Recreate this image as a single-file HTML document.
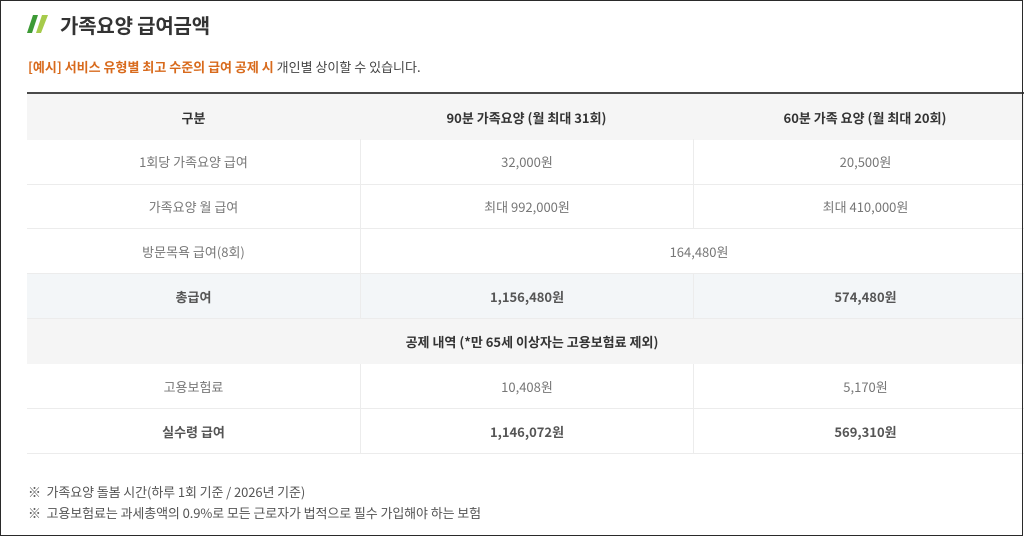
<!DOCTYPE html>
<html>
<head>
<meta charset="utf-8">
<style>
*{margin:0;padding:0;box-sizing:border-box;}
html,body{width:1024px;height:537px;overflow:hidden;background:#fff;}
body{position:relative;font-family:"Liberation Sans","Noto Sans CJK KR",sans-serif;}
.frame{position:absolute;left:0;top:0;width:1023px;height:536px;border:1px solid #2a2a2a;z-index:10;pointer-events:none;}
.title{position:absolute;left:60px;top:12px;font-size:20px;line-height:26px;font-weight:bold;color:#333;letter-spacing:-0.2px;font-family:"Noto Sans CJK KR",sans-serif;}
.icon{position:absolute;left:27px;top:15px;width:24px;height:18px;}
.sub{position:absolute;left:28px;top:57px;font-size:13px;line-height:20px;color:#444;letter-spacing:0px;font-family:"Noto Sans CJK KR",sans-serif;}
.sub b{color:#d86a1c;font-weight:bold;}
.tbl{position:absolute;left:27px;top:92px;width:1010px;}
.topline{position:absolute;left:0;top:0;width:1010px;height:2px;background:#4a4a4a;}
.row{position:absolute;left:0;width:1010px;border-bottom:1px solid #ececec;}
.cell{position:absolute;top:0;height:100%;display:flex;align-items:center;justify-content:center;font-size:13px;color:#777;letter-spacing:0px;font-family:"Noto Sans CJK KR",sans-serif;}
.h .cell{color:#333;font-weight:bold;}
.bd .cell{color:#555;font-weight:bold;}
.c1{left:0;width:333px;}
.c2{left:333px;width:333px;}
.c3{left:666px;width:344px;}
.c23{left:333px;width:677px;}
.call{left:0;width:1010px;}
.vl{border-left:1px solid #ececec;}
.note{position:absolute;left:28px;font-size:13px;line-height:20px;color:#555;letter-spacing:-0.1px;font-family:"Noto Sans CJK KR",sans-serif;}
</style>
</head>
<body>
<div class="frame"></div>

<svg class="icon" viewBox="0 0 24 18">
  <polygon points="6,0 11,0 5,18 0,18" fill="#3d9a36"/>
  <polygon points="15,0 21,0 14,18 9,18" fill="#a6cb4b"/>
</svg>
<div class="title">가족요양 급여금액</div>

<div class="sub"><b>[예시] 서비스 유형별 최고 수준의 급여 공제 시</b> 개인별 상이할 수 있습니다.</div>

<div class="tbl">
  <div class="topline"></div>
  <div class="row h" style="top:2px;height:46px;background:#f5f5f5;border-bottom:none;">
    <div class="cell c1">구분</div>
    <div class="cell c2">90분 가족요양 (월 최대 31회)</div>
    <div class="cell c3">60분 가족 요양 (월 최대 20회)</div>
  </div>
  <div class="row" style="top:47px;height:46px;">
    <div class="cell c1">1회당 가족요양 급여</div>
    <div class="cell c2 vl">32,000원</div>
    <div class="cell c3 vl">20,500원</div>
  </div>
  <div class="row" style="top:93px;height:44px;">
    <div class="cell c1">가족요양 월 급여</div>
    <div class="cell c2 vl">최대 992,000원</div>
    <div class="cell c3 vl">최대 410,000원</div>
  </div>
  <div class="row" style="top:137px;height:45px;">
    <div class="cell c1">방문목욕 급여(8회)</div>
    <div class="cell c23 vl">164,480원</div>
  </div>
  <div class="row bd" style="top:182px;height:45px;background:#f3f6f8;">
    <div class="cell c1">총급여</div>
    <div class="cell c2 vl">1,156,480원</div>
    <div class="cell c3 vl">574,480원</div>
  </div>
  <div class="row h" style="top:227px;height:45px;background:#f5f5f5;border-bottom:none;">
    <div class="cell call">공제 내역 (*만 65세 이상자는 고용보험료 제외)</div>
  </div>
  <div class="row" style="top:272px;height:45px;">
    <div class="cell c1">고용보험료</div>
    <div class="cell c2 vl">10,408원</div>
    <div class="cell c3 vl">5,170원</div>
  </div>
  <div class="row bd" style="top:317px;height:45px;">
    <div class="cell c1">실수령 급여</div>
    <div class="cell c2 vl">1,146,072원</div>
    <div class="cell c3 vl">569,310원</div>
  </div>
</div>

<div class="note" style="top:482px;">※&nbsp; 가족요양 돌봄 시간(하루 1회 기준 / 2026년 기준)</div>
<div class="note" style="top:503px;">※&nbsp; 고용보험료는 과세총액의 0.9%로 모든 근로자가 법적으로 필수 가입해야 하는 보험</div>
</body>
</html>
